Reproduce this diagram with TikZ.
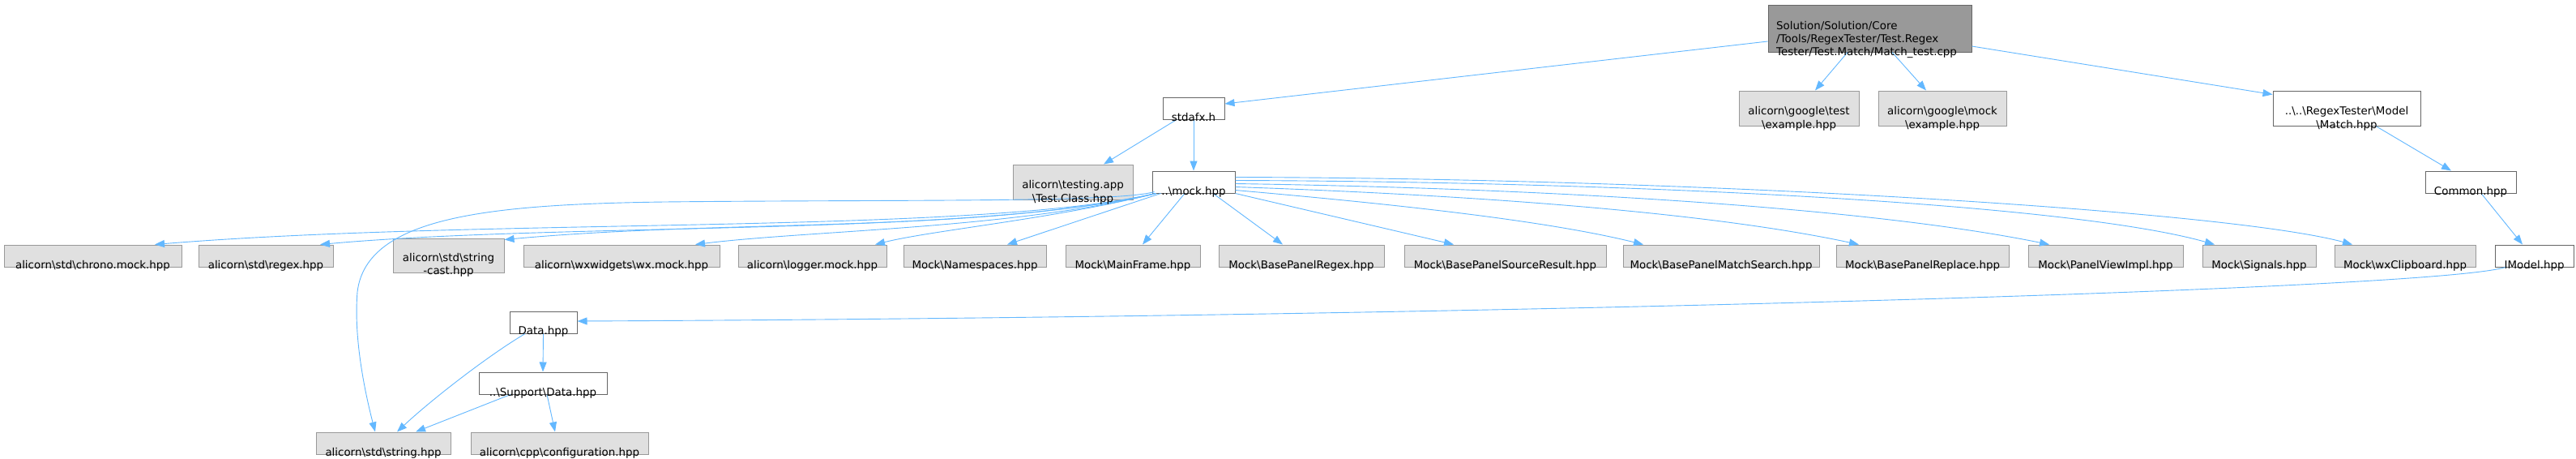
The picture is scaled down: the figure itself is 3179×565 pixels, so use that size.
\documentclass[tikz,border=0pt]{standalone}
\usepackage{fontspec}
\setmainfont{DejaVu Sans}
\usetikzlibrary{arrows.meta}
\definecolor{edgec}{HTML}{63B8FF}
\definecolor{gfill}{HTML}{E0E0E0}
\definecolor{gdraw}{HTML}{999999}
\definecolor{wdraw}{HTML}{666666}
\newcommand\bsl{\textbackslash}
\newcommand\twol[2]{\begin{tabular}[b]{@{}c@{}}#1\\#2\end{tabular}}
\begin{document}
\begin{tikzpicture}[x=1pt,y=-1pt,
  box/.style={rectangle, inner sep=0pt, line width=1pt},
  gbox/.style={box, fill=gfill, draw=gdraw},
  wbox/.style={box, fill=white, draw=wdraw},
  rbox/.style={box, fill=gdraw, draw=wdraw},
  lbl/.style={inner sep=0pt, anchor=base, font=\fontsize{13.4}{16.2}\selectfont},
  dep/.style={draw=edgec, line width=0.9pt, -{Triangle[length=12pt,width=9pt]}},
]
\useasboundingbox[fill=white] (0,0) rectangle (3179,565);
% boxes
\node[rbox, minimum width=251pt, minimum height=58pt] (root) at (2307.5,35) {};
\node[wbox, minimum width=76pt, minimum height=27pt] (stdafx) at (1473,133.5) {};
\node[gbox, minimum width=148pt, minimum height=43pt] (gtest) at (2220,133.5) {};
\node[gbox, minimum width=158pt, minimum height=43pt] (gmock) at (2397,133.5) {};
\node[wbox, minimum width=182pt, minimum height=43pt] (match) at (2896,133.5) {};
\node[gbox, minimum width=148pt, minimum height=43pt] (testing) at (1324,224.5) {};
\node[wbox, minimum width=102pt, minimum height=27pt] (mock) at (1473,224.5) {};
\node[wbox, minimum width=112pt, minimum height=27pt] (common) at (3049,224.5) {};
\node[gbox, minimum width=219pt, minimum height=27pt] (chrono) at (114.5,315.5) {};
\node[gbox, minimum width=166pt, minimum height=27pt] (regex) at (328,315.5) {};
\node[gbox, minimum width=137pt, minimum height=42pt] (scast) at (553.5,315) {};
\node[gbox, minimum width=242pt, minimum height=27pt] (wx) at (767,315.5) {};
\node[gbox, minimum width=183pt, minimum height=27pt] (logger) at (1002.5,315.5) {};
\node[gbox, minimum width=176pt, minimum height=27pt] (ns) at (1203,315.5) {};
\node[gbox, minimum width=166pt, minimum height=27pt] (mf) at (1398,315.5) {};
\node[gbox, minimum width=204pt, minimum height=27pt] (bpr) at (1606,315.5) {};
\node[gbox, minimum width=249pt, minimum height=27pt] (bpsr) at (1857.5,315.5) {};
\node[gbox, minimum width=242pt, minimum height=27pt] (bpms) at (2124,315.5) {};
\node[gbox, minimum width=213pt, minimum height=27pt] (bprep) at (2372.5,315.5) {};
\node[gbox, minimum width=191pt, minimum height=27pt] (pvi) at (2598.5,315.5) {};
\node[gbox, minimum width=140pt, minimum height=27pt] (sig) at (2788,315.5) {};
\node[gbox, minimum width=174pt, minimum height=27pt] (wxc) at (2968,315.5) {};
\node[wbox, minimum width=97pt, minimum height=27pt] (imodel) at (3127.5,315.5) {};
\node[wbox, minimum width=83pt, minimum height=27pt] (data) at (670.5,397.5) {};
\node[wbox, minimum width=158pt, minimum height=27pt] (support) at (670,472.5) {};
\node[gbox, minimum width=166pt, minimum height=27pt] (string) at (473,546.5) {};
\node[gbox, minimum width=219pt, minimum height=27pt] (config) at (690.5,546.5) {};
% edges
\draw[dep] ([yshift=-16pt]root.west) -- ([yshift=5.5pt]stdafx.east);
\draw[dep] ([xshift=-27.5pt]root.south) -- ([xshift=20pt]gtest.north);
\draw[dep] ([xshift=27.5pt]root.south) -- ([xshift=-20pt]gmock.north);
\draw[dep] ([yshift=-22pt]root.east) -- ([yshift=-5pt]match.north west);
\draw[dep] ([xshift=-21pt]stdafx.south) -- ([xshift=38pt]testing.north);
\draw[dep] (stdafx.south) -- (mock.north);
\draw[dep] ([xshift=36pt]match.south) -- ([xshift=-24pt]common.north);
\draw[dep] ([xshift=13pt]common.south) -- ([xshift=-14.5pt]imodel.north);
\draw[dep] ([xshift=-35.5pt]imodel.south) .. controls (3000,358) and (1800,391) .. ([yshift=1.5pt]data.east);
\draw[dep] ([xshift=-22.5pt]data.south) .. controls (600,440) and (530,495) .. ([xshift=17pt]string.north);
\draw[dep] (data.south) -- (support.north);
\draw[dep] ([xshift=-40pt]support.south) -- ([xshift=40pt]string.north);
\draw[dep] ([xshift=5pt]support.south) -- ([xshift=-5.5pt]config.north);
% mock.hpp fan, left side
\draw[dep] ([xshift=3pt,yshift=2pt]mock.south west) .. controls (1380,250) and (1100,246) .. (820,249)
  .. controls (600,252) and (452,268) .. (441,360)
  .. controls (436,420) and (452,490) .. ([xshift=-10pt]string.north);
\draw[dep] ([xshift=5pt]mock.south west) .. controls (1200,290) and (600,268) .. ([xshift=76.5pt]chrono.north);
\draw[dep] ([xshift=5pt]mock.south west) .. controls (1200,292) and (700,274) .. ([xshift=67pt]regex.north);
\draw[dep] ([xshift=5pt]mock.south west) .. controls (1200,288) and (900,270) .. ([yshift=-2pt]scast.north east);
\draw[dep] ([xshift=5pt]mock.south west) .. controls (1250,282) and (1000,284) .. ([xshift=91pt]wx.north);
\draw[dep] ([xshift=5pt]mock.south west) .. controls (1300,270) and (1150,284) .. ([xshift=77.5pt]logger.north);
\draw[dep] ([xshift=11pt]mock.south west) -- ([xshift=40pt]ns.north);
\draw[dep] ([xshift=-11pt]mock.south) -- ([xshift=12pt]mf.north);
\draw[dep] ([xshift=24pt]mock.south) -- ([xshift=-23pt]bpr.north);
% mock.hpp fan, right side
\draw[dep] (mock.south east) -- ([xshift=-63.5pt]bpsr.north);
\draw[dep] ([yshift=4pt]mock.south east) .. controls (1700,250) and (1900,270) .. ([xshift=-96pt]bpms.north);
\draw[dep] ([yshift=8pt]mock.south east) .. controls (1800,240) and (2100,260) .. ([xshift=-78.5pt]bprep.north);
\draw[dep] ([yshift=12pt]mock.south east) .. controls (1900,232) and (2300,255) .. ([xshift=-69.5pt]pvi.north);
\draw[dep] ([yshift=16pt]mock.south east) .. controls (2000,224) and (2550,250) .. ([xshift=-55pt]sig.north);
\draw[dep] ([yshift=20pt]mock.south east) .. controls (2100,220) and (2750,260) .. ([xshift=-65pt]wxc.north);
% labels
\node[lbl, anchor=base west] (troot) at ([xshift=10.5pt,yshift=-4pt]root.south west) {\begin{tabular}[b]{@{}l@{}}Solution/Solution/Core\\/Tools/RegexTester/Test.Regex\\Tester/Test.Match/Match\_test.cpp\end{tabular}};
\node[lbl] (tstdafx) at ([yshift=-2pt]stdafx.south) {stdafx.h};
\node[lbl] (tgtest) at ([yshift=-2.5pt]gtest.south) {\twol{alicorn\bsl google\bsl test}{\bsl example.hpp}};
\node[lbl] (tgmock) at ([yshift=-2.5pt]gmock.south) {\twol{alicorn\bsl google\bsl mock}{\bsl example.hpp}};
\node[lbl] (tmatch) at ([yshift=-2.5pt]match.south) {\twol{..\bsl ..\bsl RegexTester\bsl Model}{\bsl Match.hpp}};
\node[lbl] (ttesting) at ([yshift=-2.5pt]testing.south) {\twol{alicorn\bsl testing.app}{\bsl Test.Class.hpp}};
\node[lbl] (tmock) at ([yshift=-2pt]mock.south) {..\bsl mock.hpp};
\node[lbl] (tcommon) at ([yshift=-2pt]common.south) {Common.hpp};
\node[lbl] (tchrono) at ([yshift=-2pt]chrono.south) {alicorn\bsl std\bsl chrono.mock.hpp};
\node[lbl] (tregex) at ([yshift=-2pt]regex.south) {alicorn\bsl std\bsl regex.hpp};
\node[lbl] (tscast) at ([yshift=-2pt]scast.south) {\twol{alicorn\bsl std\bsl string}{-cast.hpp}};
\node[lbl] (twx) at ([yshift=-2pt]wx.south) {alicorn\bsl wxwidgets\bsl wx.mock.hpp};
\node[lbl] (tlogger) at ([yshift=-2pt]logger.south) {alicorn\bsl logger.mock.hpp};
\node[lbl] (tns) at ([yshift=-2pt]ns.south) {Mock\bsl Namespaces.hpp};
\node[lbl] (tmf) at ([yshift=-2pt]mf.south) {Mock\bsl MainFrame.hpp};
\node[lbl] (tbpr) at ([yshift=-2pt]bpr.south) {Mock\bsl BasePanelRegex.hpp};
\node[lbl] (tbpsr) at ([yshift=-2pt]bpsr.south) {Mock\bsl BasePanelSourceResult.hpp};
\node[lbl] (tbpms) at ([yshift=-2pt]bpms.south) {Mock\bsl BasePanelMatchSearch.hpp};
\node[lbl] (tbprep) at ([yshift=-2pt]bprep.south) {Mock\bsl BasePanelReplace.hpp};
\node[lbl] (tpvi) at ([yshift=-2pt]pvi.south) {Mock\bsl PanelViewImpl.hpp};
\node[lbl] (tsig) at ([yshift=-2pt]sig.south) {Mock\bsl Signals.hpp};
\node[lbl] (twxc) at ([yshift=-2pt]wxc.south) {Mock\bsl wxClipboard.hpp};
\node[lbl] (timodel) at ([yshift=-2pt]imodel.south) {IModel.hpp};
\node[lbl] (tdata) at ([yshift=-1pt]data.south) {Data.hpp};
\node[lbl] (tsupport) at ([yshift=-1.5pt]support.south) {..\bsl Support\bsl Data.hpp};
\node[lbl] (tstring) at ([yshift=-2pt]string.south) {alicorn\bsl std\bsl string.hpp};
\node[lbl] (tconfig) at ([yshift=-2pt]config.south) {alicorn\bsl cpp\bsl configuration.hpp};
\end{tikzpicture}
\end{document}
